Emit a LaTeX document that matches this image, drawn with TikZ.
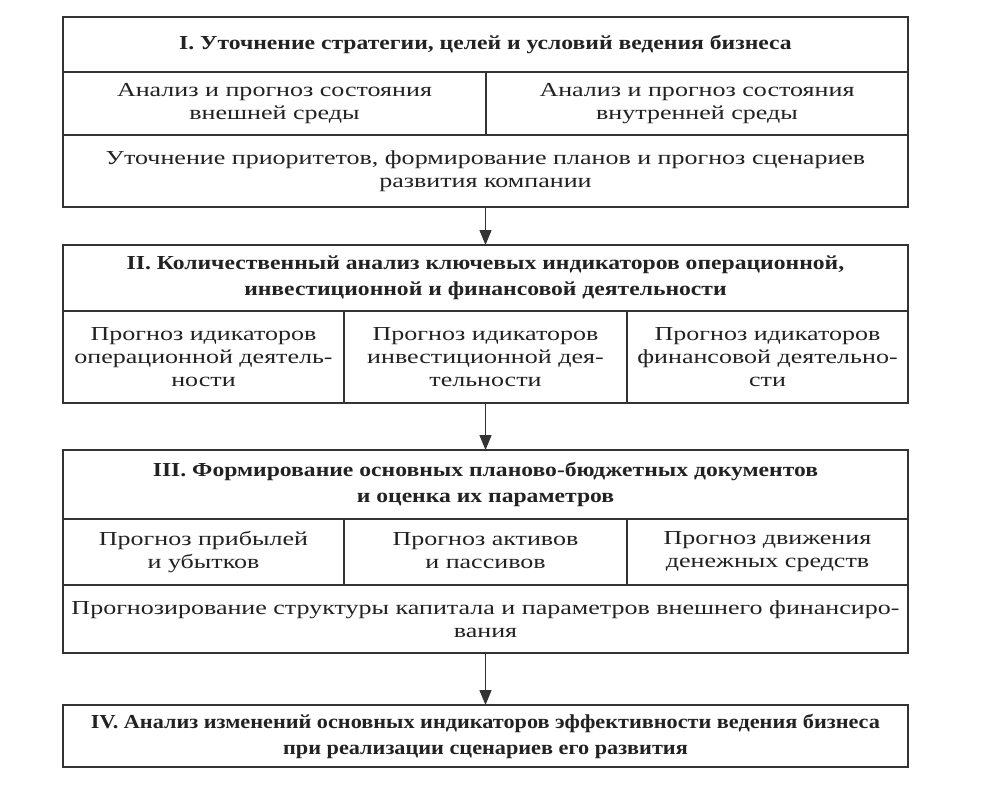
\documentclass[tikz,border=0pt]{standalone}
\usepackage{fontspec}
\setmainfont{Liberation Serif}[FakeStretch=1.31]
\newfontfamily\headfam{Liberation Serif}[FakeStretch=1.19]
\newfontfamily\lastfam{Liberation Serif}[FakeStretch=1.12]
\usetikzlibrary{positioning, arrows.meta}
\definecolor{edge}{HTML}{333333}
\definecolor{ink}{HTML}{222222}
\newcommand{\cellfont}{\fontsize{11.3}{13.2}\selectfont}
\newcommand{\headfont}{\headfam\fontsize{11.3}{14.8}\selectfont\bfseries}
\tikzset{
  cell/.style  = {draw=edge, line width=0.9pt, anchor=north west, inner sep=0pt, outer sep=0pt, align=center, font=\cellfont, text=ink},
  head/.style  = {cell, font=\headfont},
  arrow/.style = {-{Triangle[width=0.24cm, length=0.3cm]}, line width=0.8pt, draw=edge}
}

\begin{document}
\begin{tikzpicture}
  \useasboundingbox[fill=white] (0,0) rectangle (19.68,-15.72);
  % I
  \node[head, minimum width=16.9cm, minimum height=1.1cm] (t1) at (1.26,-0.34) {I. Уточнение стратегии, целей и условий ведения бизнеса};
  \node[cell, minimum width=8.46cm, minimum height=1.26cm, below=0pt of t1.south west, anchor=north west] (ext) {Анализ и прогноз состояния\\внешней среды};
  \node[cell, minimum width=8.44cm, minimum height=1.26cm, right=0pt of ext] (int) {Анализ и прогноз состояния\\внутренней среды};
  \node[cell, minimum width=16.9cm, minimum height=1.44cm, below=0pt of ext.south west, anchor=north west] (prio) {Уточнение приоритетов, формирование планов и прогноз сценариев\\развития компании};
  % II
  \node[head, minimum width=16.9cm, minimum height=1.32cm, below=0.76cm of prio] (t2) {II. Количественный анализ ключевых индикаторов операционной,\\инвестиционной и финансовой деятельности};
  \node[cell, minimum width=5.62cm, minimum height=1.84cm, below=0pt of t2.south west, anchor=north west] (oper) {Прогноз идикаторов\\операционной деятель-\\ности};
  \node[cell, minimum width=5.66cm, minimum height=1.84cm, right=0pt of oper] (inv) {Прогноз идикаторов\\инвестиционной дея-\\тельности};
  \node[cell, minimum width=5.62cm, minimum height=1.84cm, right=0pt of inv] (fin) {Прогноз идикаторов\\финансовой деятельно-\\сти};
  % III
  \node[head, minimum width=16.9cm, minimum height=1.38cm, below=0.94cm of inv.south -| t2.south, anchor=north] (t3) {III. Формирование основных планово-бюджетных документов\\и оценка их параметров};
  \node[cell, minimum width=5.62cm, minimum height=1.32cm, below=0pt of t3.south west, anchor=north west] (pl) {Прогноз прибылей\\и убытков};
  \node[cell, minimum width=5.66cm, minimum height=1.32cm, right=0pt of pl] (assets) {Прогноз активов\vphantom{б}\\и пассивов\vphantom{у}};
  \node[cell, minimum width=5.62cm, minimum height=1.32cm, right=0pt of assets] (cash) {Прогноз движения\\денежных средств};
  \node[cell, minimum width=16.9cm, minimum height=1.36cm, below=0pt of pl.south west, anchor=north west] (cap) {Прогнозирование структуры капитала и параметров внешнего финансиро-\\вания};
  % IV
  \node[head, font=\lastfam\fontsize{11.3}{14.8}\selectfont\bfseries, minimum width=16.9cm, minimum height=1.24cm, below=1.04cm of cap] (t4) {IV. Анализ изменений основных индикаторов эффективности ведения бизнеса\\при реализации сценариев его развития};

  \draw[arrow] (prio) -- (t2);
  \draw[arrow] (inv.south -| t2.south) -- (t3);
  \draw[arrow] (cap) -- (t4);
\end{tikzpicture}
\end{document}
